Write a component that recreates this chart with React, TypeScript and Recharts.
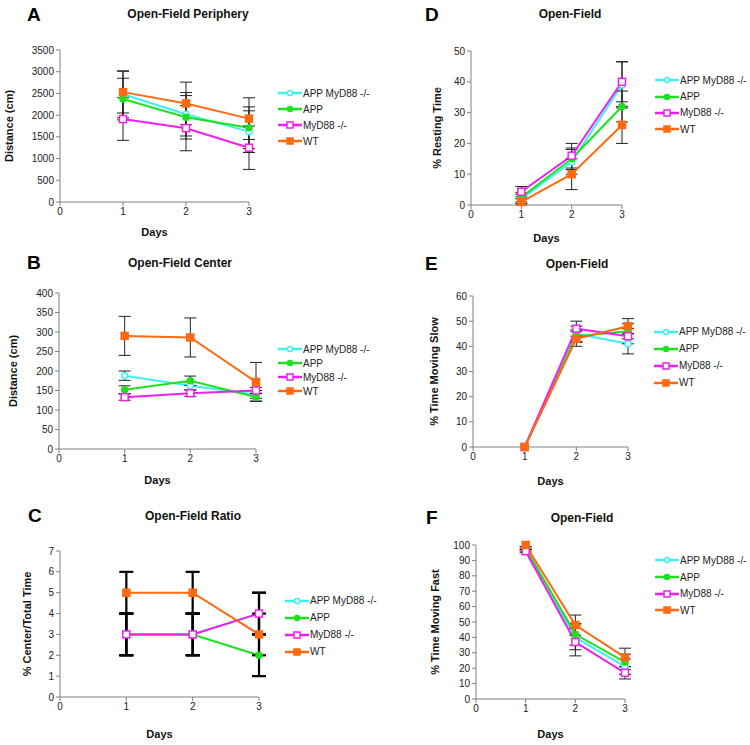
import { ErrorBar, Legend, Line, LineChart, XAxis, YAxis } from "recharts";

const days = [1, 2, 3];
const dayTicks = [0, 1, 2, 3];
const groups = ["APP MyD88 -/-", "APP", "MyD88 -/-", "WT"];
const colors = ["#3ef0f0", "#1ee01e", "#f01ef0", "#ff6a10"];
const shapes = ["openCircle", "circle", "openSquare", "square"];

// order of rows: APP MyD88 -/-, APP, MyD88 -/-, WT
const peripheryMean = [[2480, 2020, 1620], [2370, 1950, 1710], [1910, 1700, 1250], [2530, 2270, 1920]];
const peripheryErr = [[540, 500, 480], [480, 500, 480], [490, 520, 500], [480, 490, 480]];
const peripheryTicks = [0, 500, 1000, 1500, 2000, 2500, 3000, 3500];

const centerMean = [[188, 162, 140], [152, 175, 133], [133, 143, 150], [290, 286, 172]];
const centerErr = [[12, 10, 10], [10, 12, 10], [8, 8, 8], [50, 50, 50]];
const centerTicks = [0, 50, 100, 150, 200, 250, 300, 350, 400];

const ratioMean = [[3, 3, 4], [3, 3, 2], [3, 3, 4], [5, 5, 3]];
const ratioErr = [[1, 1, 1], [1, 1, 1], [1, 1, 1], [1, 1, 1]];
const ratioTicks = [0, 1, 2, 3, 4, 5, 6, 7];

const restMean = [[2, 14, 39], [2.5, 15, 32], [4.3, 16, 40], [1, 10, 26]];
const restErr = [[1.5, 4, 7.5], [1.5, 3.5, 5], [1.7, 4, 6.5], [1, 5, 6]];
const restTicks = [0, 10, 20, 30, 40, 50];

const slowMean = [[0, 45, 41], [0, 44, 46], [0, 47, 44], [0, 43, 48]];
const slowErr = [[0, 3, 4], [0, 2.5, 3], [0, 3, 3], [0, 3, 3]];
const slowTicks = [0, 10, 20, 30, 40, 50, 60];

const fastMean = [[97, 40, 21], [98, 42, 24], [96, 37, 17], [100, 48, 27]];
const fastErr = [[1, 8, 5], [1, 7, 5], [1, 9, 4], [0, 6.5, 6]];
const fastTicks = [0, 10, 20, 30, 40, 50, 60, 70, 80, 90, 100];

const panels = [
  { letter: "A", title: "Open-Field Periphery", yLabel: "Distance (cm)", mean: peripheryMean, err: peripheryErr, ticks: peripheryTicks,
    left: 0, top: 0, h: 255, x0: 60, x1: 249, y0: 50, y1: 202, labX: 9, daysOff: 6, tx: 188, ty: 14, lx: 27, ly: 15, legX: 278, legY: 85, rowH: 16 },
  { letter: "B", title: "Open-Field Center", yLabel: "Distance (cm)", mean: centerMean, err: centerErr, ticks: centerTicks,
    left: 0, top: 240, h: 255, x0: 59, x1: 256, y0: 293, y1: 449, labX: 13, daysOff: 7, tx: 180, ty: 263, lx: 27, ly: 263, legX: 278, legY: 342, rowH: 14 },
  { letter: "C", title: "Open-Field Ratio", yLabel: "% Center/Total Time", mean: ratioMean, err: ratioErr, ticks: ratioTicks,
    left: 0, top: 480, h: 265, x0: 60, x1: 259, y0: 551, y1: 697, labX: 27, daysOff: 13, tx: 193, ty: 516, lx: 28, ly: 516, legX: 285, legY: 592, rowH: 17, thick: true },
  { letter: "D", title: "Open-Field", yLabel: "% Resting Time", mean: restMean, err: restErr, ticks: restTicks,
    left: 375, top: 0, h: 255, x0: 471, x1: 622, y0: 51, y1: 205, labX: 437, daysOff: 9, tx: 570, ty: 14, lx: 425, ly: 15, legX: 655, legY: 72, rowH: 16.4 },
  { letter: "E", title: "Open-Field", yLabel: "% Time Moving Slow", mean: slowMean, err: slowErr, ticks: slowTicks,
    left: 375, top: 240, h: 255, x0: 473, x1: 628, y0: 296, y1: 447, labX: 434, daysOff: 10, tx: 577, ty: 264, lx: 425, ly: 264, legX: 654, legY: 323, rowH: 17 },
  { letter: "F", title: "Open-Field", yLabel: "% Time Moving Fast", mean: fastMean, err: fastErr, ticks: fastTicks,
    left: 375, top: 480, h: 265, x0: 476, x1: 625, y0: 545, y1: 699, labX: 435, daysOff: 11, tx: 582, ty: 518, lx: 426, ly: 518, legX: 655, legY: 552, rowH: 16.7 },
];

const FONT = "'Liberation Sans', Arial, sans-serif";
const AXIS = "#808080";
const YW = 40;
const XH = 20;

function Marker({ kind, color, cx, cy, size }: { kind: string; color: string; cx: number; cy: number; size: number }) {
  const open = kind.startsWith("open");
  const fill = open ? "#fff" : color;
  if (kind.toLowerCase().includes("square")) {
    return <rect x={cx - size / 2} y={cy - size / 2} width={size} height={size} fill={fill} stroke={color} strokeWidth={1.5} />;
  }
  return <circle cx={cx} cy={cy} r={size / 2 - 0.5} fill={fill} stroke={color} strokeWidth={1.5} />;
}

function dotFor(s: number) {
  return (props: any) => {
    const { cx, cy, index } = props;
    if (cx == null || cy == null) return <g key={index} />;
    return (
      <g key={index}>
        <Marker kind={shapes[s]} color={colors[s]} cx={cx} cy={cy} size={7} />
      </g>
    );
  };
}

function LegendBox({ rowH }: { rowH: number }) {
  return (
    <div style={{ fontFamily: FONT, fontSize: 10, color: "#222" }}>
      {groups.map((g, s) => (
        <div key={g} style={{ display: "flex", alignItems: "center", height: rowH }}>
          <svg width={24} height={10} style={{ display: "block" }}>
            <line x1={0} x2={24} y1={5} y2={5} stroke={colors[s]} strokeWidth={2.5} />
            <Marker kind={shapes[s]} color={colors[s]} cx={12} cy={5} size={6} />
          </svg>
          <span style={{ marginLeft: 1, whiteSpace: "nowrap" }}>{g}</span>
        </div>
      ))}
    </div>
  );
}

function Panel({ p }: { p: (typeof panels)[number] }) {
  const W = 375;
  const data = days.map((d, i) => {
    const row: Record<string, number> = { day: d };
    p.mean.forEach((m, s) => {
      row["v" + s] = m[i];
      row["e" + s] = p.err[s][i];
    });
    return row;
  });
  const margin = {
    left: p.x0 - p.left - YW,
    top: p.y0 - p.top,
    right: p.left + W - p.x1,
    bottom: p.top + p.h - p.y1 - XH,
  };
  const tick = { fontSize: 10, fill: "#222" };
  return (
    <div style={{ position: "absolute", left: p.left, top: p.top, width: W, height: p.h }}>
      <LineChart width={W} height={p.h} data={data} margin={margin}>
        <XAxis
          dataKey="day"
          type="number"
          domain={[0, 3]}
          ticks={dayTicks}
          height={XH}
          tick={tick}
          tickSize={4}
          stroke={AXIS}
          label={{ value: "Days", position: "bottom", offset: p.daysOff, style: { fontSize: 11, fontWeight: "bold", fill: "#111" } }}
        />
        <YAxis
          width={YW}
          domain={[0, p.ticks[p.ticks.length - 1]]}
          ticks={p.ticks}
          interval={0}
          tick={tick}
          tickSize={4}
          stroke={AXIS}
          label={{
            value: p.yLabel,
            angle: -90,
            position: "left",
            offset: margin.left - (p.labX - p.left),
            style: { fontSize: 11, fontWeight: "bold", fill: "#111", textAnchor: "middle" },
          }}
        />
        <Legend
          layout="vertical"
          align="center"
          verticalAlign="middle"
          wrapperStyle={{ left: p.legX - p.left, top: p.legY - p.top, width: 120 }}
          content={() => <LegendBox rowH={p.rowH} />}
        />
        {groups.map((g, s) => (
          <Line
            key={g}
            dataKey={"v" + s}
            name={g}
            stroke={colors[s]}
            strokeWidth={2}
            dot={dotFor(s)}
            activeDot={false}
            isAnimationActive={false}
          >
            <ErrorBar
              dataKey={"e" + s}
              width={p.thick ? 7 : 6}
              stroke={p.thick ? "#000" : "#222"}
              strokeWidth={p.thick ? 2.2 : 1}
              direction="y"
            />
          </Line>
        ))}
      </LineChart>
      <div
        style={{ position: "absolute", left: p.lx - p.left, top: p.ly - p.top - 10, fontSize: 19, lineHeight: "20px", fontWeight: "bold", color: "#000" }}
      >
        {p.letter}
      </div>
      <div
        style={{ position: "absolute", left: p.tx - p.left - 100, width: 200, textAlign: "center", top: p.ty - p.top - 7, fontSize: 12, lineHeight: "14px", fontWeight: "bold", color: "#111" }}
      >
        {p.title}
      </div>
    </div>
  );
}

export default function App() {
  return (
    <div style={{ position: "absolute", left: 0, top: 0, width: 750, height: 745, background: "#fff", fontFamily: FONT }}>
      {panels.map((p) => (
        <Panel key={p.letter} p={p} />
      ))}
    </div>
  );
}
